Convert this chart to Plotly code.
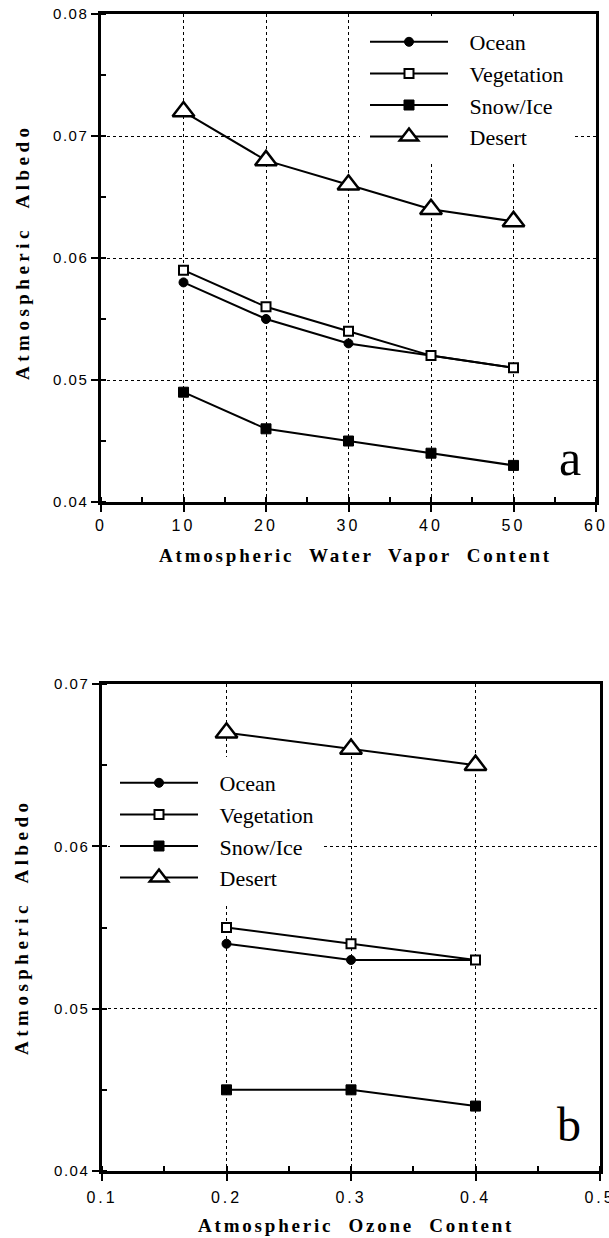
import plotly.graph_objects as go

# ---------------- data ----------------
series_names = ["Ocean", "Vegetation", "Snow/Ice", "Desert"]

water_vapor = [10, 20, 30, 40, 50]
wv_ocean = [0.058, 0.055, 0.053, 0.052, 0.051]
wv_vegetation = [0.059, 0.056, 0.054, 0.052, 0.051]
wv_snow_ice = [0.049, 0.046, 0.045, 0.044, 0.043]
wv_desert = [0.072, 0.068, 0.066, 0.064, 0.063]

ozone = [0.2, 0.3, 0.4]
oz_ocean = [0.054, 0.053, 0.053]
oz_vegetation = [0.055, 0.054, 0.053]
oz_snow_ice = [0.045, 0.045, 0.044]
oz_desert = [0.067, 0.066, 0.065]

xa_ticks = [0, 10, 20, 30, 40, 50, 60]
xa_labels = ["0", "10", "20", "30", "40", "50", "60"]
ya_ticks = [0.04, 0.05, 0.06, 0.07, 0.08]
ya_labels = ["0.04", "0.05", "0.06", "0.07", "0.08"]
xb_ticks = [0.1, 0.2, 0.3, 0.4, 0.5]
xb_labels = ["0.1", "0.2", "0.3", "0.4", "0.5"]
yb_ticks = [0.04, 0.05, 0.06, 0.07]
yb_labels = ["0.04", "0.05", "0.06", "0.07"]

x_title_a = "Atmospheric  Water  Vapor  Content"
x_title_b = "Atmospheric  Ozone  Content"
y_title = "Atmospheric  Albedo"

# ---------------- styles ----------------
W, H = 609, 1238
SERIF = "Liberation Serif, Times New Roman, serif"
SANS = "Liberation Sans, Arial, sans-serif"
PAD = "\u00a0\u00a0\u00a0"

marker_styles = {
    "Ocean": dict(symbol="circle", size=9, color="black", line=dict(color="black", width=1)),
    "Vegetation": dict(symbol="square", size=9, color="white", line=dict(color="black", width=2)),
    "Snow/Ice": dict(symbol="square", size=10, color="black", line=dict(color="black", width=1)),
    "Desert": dict(symbol="triangle-up", size=19, color="white", line=dict(color="black", width=2.5)),
}


def spaced(t, px):
    return f'<span style="letter-spacing:{px}px">{t}</span>'


fig = go.Figure()

panel_a = [wv_ocean, wv_vegetation, wv_snow_ice, wv_desert]
panel_b = [oz_ocean, oz_vegetation, oz_snow_ice, oz_desert]

for name, ys in zip(series_names, panel_a):
    fig.add_trace(go.Scatter(
        x=water_vapor, y=ys, name=PAD + name, mode="lines+markers",
        line=dict(color="black", width=2), marker=marker_styles[name],
        xaxis="x", yaxis="y", legend="legend", legendgroup="a" + name,
    ))

for name, ys in zip(series_names, panel_b):
    fig.add_trace(go.Scatter(
        x=ozone, y=ys, name=PAD + name, mode="lines+markers",
        line=dict(color="black", width=2), marker=marker_styles[name],
        xaxis="x2", yaxis="y2", legend="legend2", legendgroup="b" + name,
    ))

axis_common = dict(
    showline=True, linecolor="black", linewidth=2.5, mirror=True,
    ticks="outside", ticklen=7, tickwidth=2, tickcolor="black",
    showgrid=True, gridcolor="black", gridwidth=1.4, griddash="dot",
    zeroline=False, automargin=False, ticklabeloverflow="allow",
)
xtick_font = dict(family=SANS, size=16, color="black")
ytick_font = dict(family=SANS, size=15, color="black")
minor_common = dict(ticks="inside", ticklen=5, tickwidth=2, tickcolor="black", showgrid=False)

title_font = dict(family=SERIF, size=19, color="black", weight="bold")
legend_common = dict(
    xanchor="left", yanchor="top",
    bgcolor="white", bordercolor="white", borderwidth=5,
    font=dict(family=SERIF, size=22, color="black"),
    itemwidth=78, tracegroupgap=0,
)
ann_common = dict(xref="paper", yref="paper", xanchor="center", yanchor="middle", showarrow=False)

fig.update_layout(
    width=W, height=H,
    margin=dict(l=0, r=0, t=0, b=0),
    paper_bgcolor="white", plot_bgcolor="white",
    xaxis=dict(
        domain=[101 / W, 596 / W], range=[0, 60], anchor="y",
        tickvals=xa_ticks, ticktext=[spaced(t, 3) for t in xa_labels], tickfont=xtick_font,
        minor=dict(dtick=5, tick0=0, **minor_common),
        **axis_common,
    ),
    yaxis=dict(
        domain=[(H - 502) / H, (H - 14) / H], range=[0.04, 0.08], anchor="x",
        tickvals=ya_ticks, ticktext=[spaced(t, 1.5) for t in ya_labels], tickfont=ytick_font,
        minor=dict(dtick=0.005, tick0=0.04, **minor_common),
        **axis_common,
    ),
    xaxis2=dict(
        domain=[102 / W, 600 / W], range=[0.1, 0.5], anchor="y2",
        tickvals=xb_ticks, ticktext=[spaced(t, 3) for t in xb_labels], tickfont=xtick_font,
        ticklabelstandoff=3,
        minor=dict(dtick=0.05, tick0=0.1, **minor_common),
        **axis_common,
    ),
    yaxis2=dict(
        domain=[(H - 1171) / H, (H - 684) / H], range=[0.04, 0.07], anchor="x2",
        tickvals=yb_ticks, ticktext=[spaced(t, 1.5) for t in yb_labels], tickfont=ytick_font,
        minor=dict(dtick=0.005, tick0=0.04, **minor_common),
        **axis_common,
    ),
    legend=dict(x=360 / W, y=1 - 16 / H, **legend_common),
    legend2=dict(x=110 / W, y=1 - 757 / H, **legend_common),
    annotations=[
        dict(text=spaced(x_title_a, 2.8), x=356 / W, y=1 - 555 / H, font=title_font, **ann_common),
        dict(text=spaced(x_title_b, 2.8), x=356 / W, y=1 - 1225 / H, font=title_font, **ann_common),
        dict(text=spaced(y_title, 4.5), x=22 / W, y=1 - 252 / H, textangle=-90, font=title_font, **ann_common),
        dict(text=spaced(y_title, 4.5), x=22 / W, y=1 - 927 / H, textangle=-90, font=title_font, **ann_common),
        dict(text="a", x=570 / W, y=1 - 458 / H, font=dict(family=SERIF, size=50, color="black"), **ann_common),
        dict(text="b", x=569 / W, y=1 - 1124 / H, font=dict(family=SERIF, size=48, color="black"), **ann_common),
    ],
    showlegend=True,
)

fig.write_html(
    "out.html",
    config={"displayModeBar": False},
    post_script="document.body.style.margin='0px';document.body.style.overflow='hidden';",
)
